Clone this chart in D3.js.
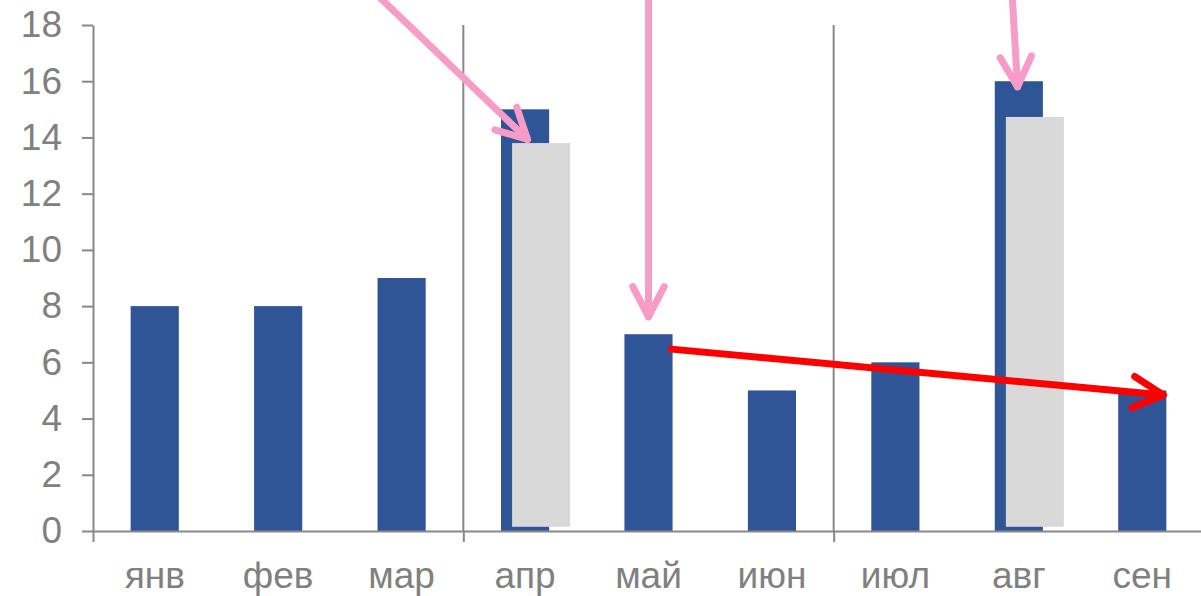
<!DOCTYPE html>
<html>
<head>
<meta charset="utf-8">
<script src="https://cdn.jsdelivr.net/npm/d3@7"></script>
<style>
  html, body { margin: 0; padding: 0; background: #fff; }
  svg { display: block; }
</style>
</head>
<body>
<div id="chart"></div>
<script>
const WIDTH = 1201
const HEIGHT = 596
const AXIS = { LEFT: 93, RIGHT: 1204, TOP: 25, BOTTOM: 531 }

const months = ['янв', 'фев', 'мар', 'апр', 'май', 'июн', 'июл', 'авг', 'сен']
const values = [8, 8, 9, 15, 7, 5, 6, 16, 5]
const shadowLow = [null, null, null, 0.15, null, null, null, 0.15, null]
const shadowHigh = [null, null, null, 13.8, null, null, null, 14.73, null]
const yTicks = [0, 2, 4, 6, 8, 10, 12, 14, 16, 18]
const groupBreaks = [0, 3, 6, 9]

// arrows in category-index / value units
const pinkArrows = [
  { from: [2.2, 19.5], to: [3.52, 13.93] },
  { from: [4.5, 19.5], to: [4.5, 7.62] },
  { from: [7.44, 19.5], to: [7.49, 15.8] }
]
const redArrows = [
  { from: [4.685, 6.47], to: [8.67, 4.84] }
]

const svg = d3.select('#chart')
  .append('svg')
    .attr('width', WIDTH)
    .attr('height', HEIGHT)

const x = d3.scaleBand()
  .domain(months)
  .range([AXIS.LEFT, AXIS.RIGHT])
  .padding(0)

const xi = d3.scaleLinear()
  .domain([0, months.length])
  .range([AXIS.LEFT, AXIS.RIGHT])

const y = d3.scaleLinear()
  .domain([0, 18])
  .range([AXIS.BOTTOM, AXIS.TOP])

const bw = x.bandwidth()
const barW = bw * 0.39

// group separators
svg.append('g')
  .selectAll('line')
  .data(groupBreaks.slice(1, -1))
  .enter()
  .append('line')
    .attr('x1', d => xi(d))
    .attr('x2', d => xi(d))
    .attr('y1', y(18))
    .attr('y2', y(0))
    .attr('stroke', '#888')
    .attr('stroke-width', 2)

// main bars
svg.append('g')
  .selectAll('rect')
  .data(months.map((m, i) => ({ m, v: values[i] })))
  .enter()
  .append('rect')
    .attr('x', d => x(d.m) + (bw - barW) / 2)
    .attr('y', d => y(d.v))
    .attr('width', barW)
    .attr('height', d => y(0) - y(d.v))
    .attr('fill', '#2f5597')

// grey overlay bars
svg.append('g')
  .selectAll('rect')
  .data(months.map((m, i) => ({ m, lo: shadowLow[i], hi: shadowHigh[i] })).filter(d => d.hi !== null))
  .enter()
  .append('rect')
    .attr('x', d => x(d.m) + (bw - barW) / 2 + bw * 0.09)
    .attr('y', d => y(d.hi))
    .attr('width', bw * 0.47)
    .attr('height', d => y(d.lo) - y(d.hi))
    .attr('fill', '#d9d9d9')

// y axis
const yAxis = svg.append('g')
  .attr('transform', `translate(${AXIS.LEFT}, 0)`)
  .call(d3.axisLeft(y).tickValues(yTicks).tickSize(11).tickSizeOuter(0).tickPadding(20))

// x axis: group ticks
const xTickAxis = svg.append('g')
  .attr('transform', `translate(0, ${AXIS.BOTTOM})`)
  .call(d3.axisBottom(xi).tickValues(groupBreaks).tickSize(11).tickSizeOuter(0).tickFormat(''))

// x axis: month labels
const xLabelAxis = svg.append('g')
  .attr('transform', `translate(0, ${AXIS.BOTTOM})`)
  .call(d3.axisBottom(x).tickSize(0).tickSizeOuter(0))

xLabelAxis.select('.domain').remove()
xLabelAxis.selectAll('text')
  .attr('y', 57)
  .attr('dy', 0)

;[yAxis, xTickAxis].forEach(g => {
  g.selectAll('.domain, line')
    .attr('stroke', '#888')
    .attr('stroke-width', 2)
})

;[yAxis, xLabelAxis].forEach(g => {
  g.selectAll('text')
    .attr('fill', '#808080')
    .style('font-family', '"Liberation Sans", Arial, sans-serif')
    .style('font-size', '37px')
})

// arrows
const drawArrow = (a, color, width) => {
  const x1 = xi(a.from[0]), y1 = y(a.from[1])
  const x2 = xi(a.to[0]), y2 = y(a.to[1])
  const ang = Math.atan2(y2 - y1, x2 - x1)
  const len = 34, spread = 0.48
  const head = [
    [x2 - len * Math.cos(ang - spread), y2 - len * Math.sin(ang - spread)],
    [x2, y2],
    [x2 - len * Math.cos(ang + spread), y2 - len * Math.sin(ang + spread)]
  ]
  const g = svg.append('g')
    .attr('fill', 'none')
    .attr('stroke', color)
    .attr('stroke-width', width)
    .attr('stroke-linecap', 'round')
    .attr('stroke-linejoin', 'round')
  g.append('path').attr('d', d3.line()([[x1, y1], [x2, y2]]))
  g.append('path').attr('d', d3.line()(head))
}

pinkArrows.forEach(a => drawArrow(a, '#f79bc7', 7))
redArrows.forEach(a => drawArrow(a, '#ff0000', 7))
</script>
</body>
</html>
